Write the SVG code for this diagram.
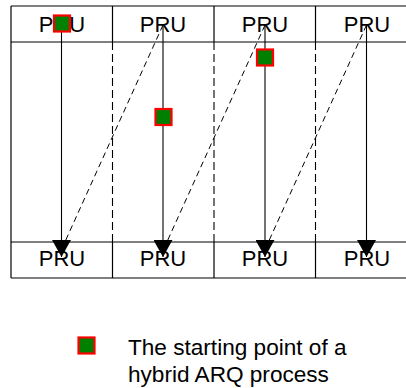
<svg xmlns="http://www.w3.org/2000/svg" width="406" height="388" viewBox="0 0 406 388">
<style>
.ln{stroke:#000;stroke-width:1.2;fill:none}
.dv{stroke:#000;stroke-width:1.1;fill:none;stroke-dasharray:8,4}
.dg{stroke:#000;stroke-width:1;fill:none;stroke-dasharray:6,4}
.ar{stroke:#000;stroke-width:1.1;fill:none}
.t{font-family:"Liberation Sans",Arial,sans-serif;font-size:22px;fill:#000}
.pru{text-anchor:middle}
.lg{font-size:22.6px}
.sq{fill:#008000;stroke:#ff0000;stroke-width:2.2}
</style>
<defs>
<marker id="ah" viewBox="0 0 17 19" refX="17" refY="9.5" markerWidth="17" markerHeight="19" markerUnits="userSpaceOnUse" orient="auto">
<path d="M0,0 L17,9.5 L0,19 z" fill="#000"/>
</marker>
</defs>
<g id="table">
<line class="ln" x1="11" y1="6" x2="406" y2="6"/>
<line class="ln" x1="11" y1="42" x2="406" y2="42"/>
<line class="ln" x1="11" y1="242" x2="406" y2="242"/>
<line class="ln" x1="11" y1="278" x2="406" y2="278"/>
<line class="ln" x1="11" y1="6" x2="11" y2="278"/>
<line class="ln" x1="112.5" y1="6" x2="112.5" y2="42"/>
<line class="ln" x1="214" y1="6" x2="214" y2="42"/>
<line class="ln" x1="315.5" y1="6" x2="315.5" y2="42"/>
<line class="ln" x1="112.5" y1="242" x2="112.5" y2="278"/>
<line class="ln" x1="214" y1="242" x2="214" y2="278"/>
<line class="ln" x1="315.5" y1="242" x2="315.5" y2="278"/>
<line class="dv" x1="112.5" y1="42" x2="112.5" y2="242"/>
<line class="dv" x1="214" y1="42" x2="214" y2="242"/>
<line class="dv" x1="315.5" y1="42" x2="315.5" y2="242"/>
</g>
<g id="pru-top-1"><text class="t pru" x="62" y="31.5">PRU</text></g>
<g id="pru-top-2"><text class="t pru" x="163" y="31.5">PRU</text></g>
<g id="pru-top-3"><text class="t pru" x="265" y="31.5">PRU</text></g>
<g id="pru-top-4"><text class="t pru" x="367" y="31.5">PRU</text></g>
<g id="pru-bot-1"><text class="t pru" x="62" y="266">PRU</text></g>
<g id="pru-bot-2"><text class="t pru" x="163" y="266">PRU</text></g>
<g id="pru-bot-3"><text class="t pru" x="265" y="266">PRU</text></g>
<g id="pru-bot-4"><text class="t pru" x="367" y="266">PRU</text></g>
<g id="connectors">
<line class="ar" x1="61.5" y1="30" x2="61.5" y2="257" marker-end="url(#ah)"/>
<line class="ar" x1="163" y1="26" x2="163" y2="257" marker-end="url(#ah)"/>
<line class="ar" x1="265" y1="26" x2="265" y2="257" marker-end="url(#ah)"/>
<line class="ar" x1="366.5" y1="26" x2="366.5" y2="257" marker-end="url(#ah)"/>
<line class="dg" x1="163" y1="25" x2="64" y2="244"/>
<line class="dg" x1="265" y1="25" x2="166" y2="244"/>
<line class="dg" x1="366.5" y1="25" x2="267.5" y2="244"/>
</g>
<g id="start-1"><rect class="sq" x="54" y="15.5" width="16" height="16"/></g>
<g id="start-2"><rect class="sq" x="155.5" y="109" width="16" height="16"/></g>
<g id="start-3"><rect class="sq" x="257" y="49.5" width="16" height="16"/></g>
<g id="legend">
<rect class="sq" x="78.5" y="337.5" width="16" height="16"/>
<text class="t lg" x="128" y="355">The starting point of a</text>
<text class="t lg" x="128" y="381.5">hybrid ARQ process</text>
</g>
</svg>
